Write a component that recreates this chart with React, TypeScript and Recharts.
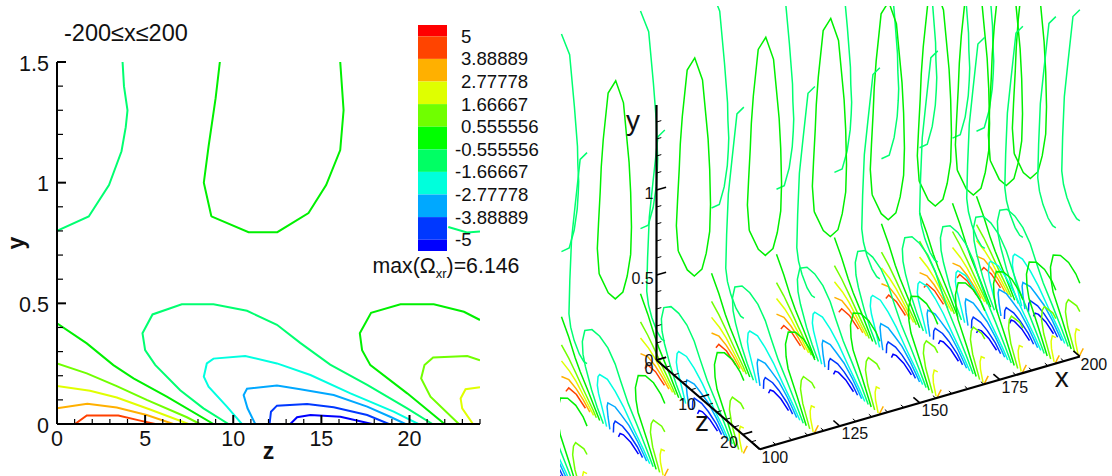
import React from 'react';
import { LineChart, Line, XAxis, YAxis, ReferenceArea, ReferenceDot } from 'recharts';

type Pt = [number, number]; // [z, y]
const FONT = '"Liberation Sans", Arial, sans-serif';

// ---- contour curves, [z, y] ----
const upperA: Pt[] = [[0,2.08],[1.9,2.0],[3.0,1.72],[3.72,1.5],[3.8,1.4],[4.0,1.3],[3.9,1.23],[3.66,1.13],[2.95,0.99],[1.8,0.86],[0,0.8]];
const upperB: Pt[] = [[8.76,0.86],[8.33,1.0],[8.6,1.15],[9.0,1.35],[9.24,1.5],[9.7,1.67],[10.84,1.97],[12.6,2.08],[14.4,1.99],[15.7,1.67],[16.07,1.5],[16.26,1.3],[16.07,1.135],[15.27,0.99],[14.27,0.874],[12.5,0.795],[10.87,0.795],[8.76,0.86]];
const upperC: Pt[] = [[24,2.04],[22.4,1.965],[21.2,1.66],[20.4,1.45],[20,1.2],[19.8,1.0],[20.2,0.93],[21,0.87],[22.2,0.816],[23.26,0.794],[24,0.798]];
const upperCTail: Pt[] = [[22.2,0.816],[23.26,0.794],[24,0.798]];

const redCurve: Pt[] = [[1.02,0],[1.69,0.035],[3.48,0.035],[4.72,0.014],[5.57,0]];
const orangeCurve: Pt[] = [[0,0.065],[1.72,0.084],[3.39,0.068],[5.09,0.037],[6.6,0]];
const yellowCurve: Pt[] = [[0,0.157],[1.875,0.138],[3.39,0.11],[5.28,0.06],[7.46,0]];
const limeCurve: Pt[] = [[0,0.251],[1.69,0.21],[3.39,0.157],[5.09,0.1],[7.37,0.028],[8.1,0]];
const greenCurve: Pt[] = [[0,0.417],[1.69,0.334],[3.2,0.244],[4.34,0.189],[6.23,0.113],[8.88,0]];
const springArc: Pt[] = [[9.73,0],[8.31,0.065],[6.99,0.14],[5.57,0.245],[5.0,0.306],[4.85,0.376],[5.42,0.454],[7.08,0.496],[8.88,0.496],[10.78,0.469],[12.48,0.411],[13.8,0.336],[15.5,0.246],[17.6,0.162],[19.87,0.065],[21.3,0]];
const cyanArc: Pt[] = [[10.49,0],[9.64,0.072],[8.6,0.155],[8.33,0.196],[8.5,0.251],[8.88,0.271],[10.68,0.282],[12.48,0.251],[14.38,0.203],[16.65,0.127],[19.1,0.051],[20.5,0]];
const azureArc: Pt[] = [[11.25,0],[10.81,0.065],[10.59,0.12],[10.78,0.146],[12.48,0.159],[13.8,0.144],[15.7,0.12],[17.6,0.072],[18.9,0.03],[19.77,0]];
const blueArc: Pt[] = [[12.06,0],[12.14,0.051],[12.48,0.076],[14.19,0.083],[15.7,0.069],[17.6,0.037],[18.83,0]];
const deepBlueArc: Pt[] = [[13.24,0],[13.62,0.028],[14.38,0.037],[16.08,0.03],[17.88,0]];
const greenArcRight: Pt[] = [[21.99,0],[19.87,0.127],[17.78,0.244],[17.31,0.306],[17.18,0.376],[17.82,0.461],[19.49,0.496],[21.38,0.496],[23.09,0.465],[24,0.431]];
const limeArcRight: Pt[] = [[22.8,0],[21.19,0.113],[20.66,0.189],[20.85,0.244],[21.34,0.276],[23.28,0.282],[24,0.264]];
const yellowArcRight: Pt[] = [[23.6,0],[22.99,0.065],[22.9,0.106],[23.18,0.144],[24,0.152]];
const orangeTick: Pt[] = [[23.9,0],[24.3,0.03],[24.8,0.065]];

const C = { red:'#ff4000', orange:'#ffb000', yellow:'#e0ff00', lime:'#70ff00', green:'#00f000', spring:'#00ff70', cyan:'#00ffe0', azure:'#00a8ff', blue:'#0038ff', deep:'#0000ff' };

const leftCurves: [Pt[], string][] = [
  [upperA,C.spring],[upperB,C.green],[upperCTail,C.spring],
  [redCurve,C.red],[orangeCurve,C.orange],[yellowCurve,C.yellow],[limeCurve,C.lime],[greenCurve,C.green],
  [springArc,C.spring],[cyanArc,C.cyan],[azureArc,C.azure],[blueArc,C.blue],[deepBlueArc,C.deep],
  [greenArcRight,C.green],[limeArcRight,C.lime],[yellowArcRight,C.yellow],
];
const sliceCurves: [Pt[], string][] = [
  [upperA,C.spring],[upperB,C.green],[upperC,C.spring],
  [redCurve,C.red],[orangeCurve,C.orange],[yellowCurve,C.yellow],[limeCurve,C.lime],[greenCurve,C.green],
  [springArc,C.spring],[cyanArc,C.cyan],[azureArc,C.azure],[blueArc,C.blue],[deepBlueArc,C.deep],
  [greenArcRight,C.green],[limeArcRight,C.lime],[yellowArcRight,C.yellow],[orangeTick,C.orange],
];
const slicePositions = [200,192.5,182.2,170.3,155.6,137.5,117.2,95,70.3,46];

// ---- 3D view: world (x, z, y) to view plane (u, v) ----
const project = (x: number, z: number, y: number) => ({
  u: 3.2 * (x - 100) + 4.306 * z,
  v: 0.928 * (x - 100) - 3.72 * z + 170 * y,
});

// ---- legend ----
const legendLevels = [5,3.88889,2.77778,1.66667,0.555556,-0.555556,-1.66667,-2.77778,-3.88889,-5];
const legendEdges = [5.556,5,3.889,2.778,1.667,0.556,-0.556,-1.667,-2.778,-3.889,-5,-5.556];
const legendColors = ['#ff0000','#ff4400','#ffb000','#dfff00','#70ff00','#00ff00','#00ff64','#00ffdc','#00a8ff','#0038ff','#0000ff'];
const legendRange = [{ k:0, lv:-5.556 },{ k:1, lv:5.556 }];

// ---- left ticks ----
const zTicks = Array.from({ length: 25 }, (_, i) => i);
const yTicks = [0,0.1,0.2,0.3,0.4,0.5,0.6,0.7,0.8,0.9,1,1.1,1.2,1.3,1.4,1.5];
const yMajor = [0,0.5,1,1.5];

const ZTick = (p: any) => {
  const v = p.payload.value; const major = v % 5 === 0;
  return (
    <g>
      <line x1={p.x} x2={p.x} y1={p.y} y2={p.y - (major ? 9 : 5)} stroke="#000" strokeWidth={major ? 2 : 1.2} />
      {major && <text x={p.x} y={p.y + 22} textAnchor="middle" fontSize={21.5} fontFamily={FONT} fill="#111">{v}</text>}
    </g>
  );
};
const YTick = (p: any) => {
  const v = p.payload.value; const major = yMajor.includes(v);
  return (
    <g>
      <line x1={p.x} x2={p.x + (major ? 9 : 6)} y1={p.y} y2={p.y} stroke="#000" strokeWidth={major ? 2 : 1.2} />
      {major && <text x={p.x - 8} y={p.y + 8.5} textAnchor="end" fontSize={21.5} fontFamily={FONT} fill="#111">{v}</text>}
    </g>
  );
};
const LegendTick = (p: any) => {
  const v = p.payload.value;
  return <text x={v < 0 ? 455 - 400 : 461 - 400} y={p.y + 6.5} fontSize={18.6} fontFamily={FONT} fill="#111">{String(v)}</text>;
};

// ---- right axes ----
const rightYMinor = [0.1,0.2,0.3,0.4,0.6,0.7,0.8,0.9,1.1,1.2,1.3,1.4];
const rightYMajor = [0,0.5,1];
const rightZMinor = [2,4,6,8,12,14,16,18,22];
const rightZMajor = [0,10,20];
const rightXMinor = [105,110,115,120,130,135,140,145,155,160,165,170,180,185,190,195];
const rightXMajor = [100,125,150,175,200];

type Seg = { key: string; a: [number,number,number]; b: [number,number,number]; w: number };
const axisSegs: Seg[] = [
  { key:'axis-y', a:[100,0,0], b:[100,0,1.5], w:2.2 },
  { key:'axis-z', a:[100,0,0], b:[100,24,0], w:2.2 },
  { key:'axis-x', a:[100,24,0], b:[200,24,0], w:2.2 },
  ...rightYMinor.map(y => ({ key:`ym${y}`, a:[100,0,y], b:[101.5,0,y], w:1 } as Seg)),
  ...rightYMajor.map(y => ({ key:`yM${y}`, a:[100,0,y], b:[103,0,y], w:1.6 } as Seg)),
  ...rightZMinor.map(z => ({ key:`zm${z}`, a:[100,z,0], b:[101.5,z,0], w:1 } as Seg)),
  ...rightZMajor.map(z => ({ key:`zM${z}`, a:[100,z,0], b:[103,z,0], w:1.6 } as Seg)),
  ...rightXMinor.map(x => ({ key:`xm${x}`, a:[x,24,0], b:[x,23.3,0], w:1 } as Seg)),
  ...rightXMajor.map(x => ({ key:`xM${x}`, a:[x,24,0], b:[x,22.5,0], w:1.6 } as Seg)),
];

type Lab = { t: string; at: [number,number,number]; dx: number; dy: number; size: number };
const axisLabels: Lab[] = [
  { t:'0.5', at:[100,0,0.5], dx:-14, dy:3, size:16 },
  { t:'1', at:[100,0,1], dx:-7.5, dy:3, size:16 },
  { t:'0', at:[100,0,0], dx:-7.5, dy:0, size:16 },
  { t:'0', at:[100,0,0], dx:-7.5, dy:8, size:16 },
  { t:'10', at:[100,10,0], dx:-12.5, dy:7, size:16 },
  { t:'20', at:[100,20,0], dx:-13.6, dy:7.6, size:16 },
  { t:'100', at:[100,24,0], dx:15, dy:7.5, size:16 },
  { t:'125', at:[125,24,0], dx:15, dy:7.5, size:16 },
  { t:'150', at:[150,24,0], dx:15, dy:7.5, size:16 },
  { t:'175', at:[175,24,0], dx:15, dy:7.5, size:16 },
  { t:'200', at:[200,24,0], dx:14, dy:8, size:16 },
  { t:'y', at:[100,0,1.5], dx:-23.5, dy:15, size:28 },
  { t:'z', at:[100,10,0], dx:2.5, dy:24, size:28 },
  { t:'x', at:[200,24,0], dx:-18, dy:20, size:28 },
];

const abs = (left: number, top: number, w: number, h: number): React.CSSProperties => ({ position:'absolute', left, top, width:w, height:h, overflow:'hidden' });

export default function App() {
  return (
    <div style={{ position:'absolute', left:0, top:0, width:1112, height:476, background:'#fff', overflow:'hidden' }}>
      {/* left contour panel */}
      <div style={abs(0,0,560,476)}>
        <LineChart width={560} height={476} margin={{ top:62, left:0, right:80, bottom:0 }}>
          <XAxis type="number" dataKey="z" domain={[0,24]} ticks={zTicks} interval={0} height={52} tickSize={0} tickMargin={0} tick={ZTick} allowDataOverflow stroke="#000" strokeWidth={2}
            label={{ value:'z', position:'insideBottom', offset:17, style:{ fontSize:23, fontWeight:'bold', fontFamily:FONT, fill:'#111' } }} />
          <YAxis type="number" domain={[0,1.5]} ticks={yTicks} interval={0} width={57} tickSize={0} tickMargin={0} tick={YTick} allowDataOverflow stroke="#000" strokeWidth={2}
            label={{ value:'y', angle:-90, position:'insideLeft', offset:16, style:{ fontSize:23, fontWeight:'bold', fontFamily:FONT, fill:'#111', textAnchor:'middle' } }} />
          {leftCurves.map(([pts,color],i) => (
            <Line key={i} data={pts.map(([z,y]) => ({ z, y }))} dataKey="y" stroke={color} strokeWidth={2} dot={false} type="linear" isAnimationActive={false} legendType="none" />
          ))}
        </LineChart>
      </div>

      {/* legend */}
      <div style={abs(400,0,147,256)}>
        <LineChart width={147} height={256} data={legendRange} margin={{ top:25, left:18, right:0, bottom:5 }}>
          <XAxis type="number" dataKey="k" domain={[0,1]} hide />
          <YAxis type="number" orientation="right" domain={[-5.556,5.556]} ticks={legendLevels} interval={0} width={100} tick={LegendTick} tickLine={false} axisLine={false} />
          {legendColors.map((c,i) => (
            <ReferenceArea key={c} x1={0} x2={1} y1={legendEdges[i+1]} y2={legendEdges[i]} fill={c} fillOpacity={1} stroke="none" />
          ))}
          <Line dataKey="lv" stroke="none" dot={false} isAnimationActive={false} legendType="none" />
        </LineChart>
      </div>

      {/* free text */}
      <svg width={560} height={300} style={{ position:'absolute', left:0, top:0, pointerEvents:'none' }}>
        <text x={64} y={41} fontSize={23.5} fontFamily={FONT} fill="#111">-200≤x≤200</text>
        <text x={372.5} y={273} fontSize={21.3} fontFamily={FONT} fill="#111">max(Ω<tspan fontSize={13} dy={5}>xr</tspan><tspan dy={-5}>)=6.146</tspan></text>
      </svg>

      {/* right 3D panel */}
      <div style={abs(560,6,552,470)}>
        <LineChart width={552} height={470} margin={{ top:0, left:0, right:0, bottom:0 }}>
          <XAxis type="number" dataKey="u" domain={[-96.5,455.5]} hide allowDataOverflow />
          <YAxis type="number" domain={[-116,354]} hide allowDataOverflow />
          {slicePositions.flatMap(x => sliceCurves.map(([pts,color],i) => (
            <Line key={`${x}-${i}`} data={pts.map(([z,y]) => project(x,z,y))} dataKey="v" stroke={color} strokeWidth={1.5} dot={false} type="linear" isAnimationActive={false} legendType="none" />
          )))}
          {axisSegs.map(s => (
            <Line key={s.key} data={[project(...s.a), project(...s.b)]} dataKey="v" stroke="#000" strokeWidth={s.w} dot={false} type="linear" isAnimationActive={false} legendType="none" />
          ))}
          {axisLabels.map((l,i) => {
            const p = project(...l.at);
            return (
              <ReferenceDot key={i} x={p.u} y={p.v} r={0} ifOverflow="visible" shape={(s: any) => (
                <text x={s.cx + l.dx} y={s.cy + l.dy + l.size * 0.36} textAnchor="middle" fontSize={l.size} fontFamily={FONT} fill="#111">{l.t}</text>
              )} />
            );
          })}
        </LineChart>
      </div>
    </div>
  );
}
